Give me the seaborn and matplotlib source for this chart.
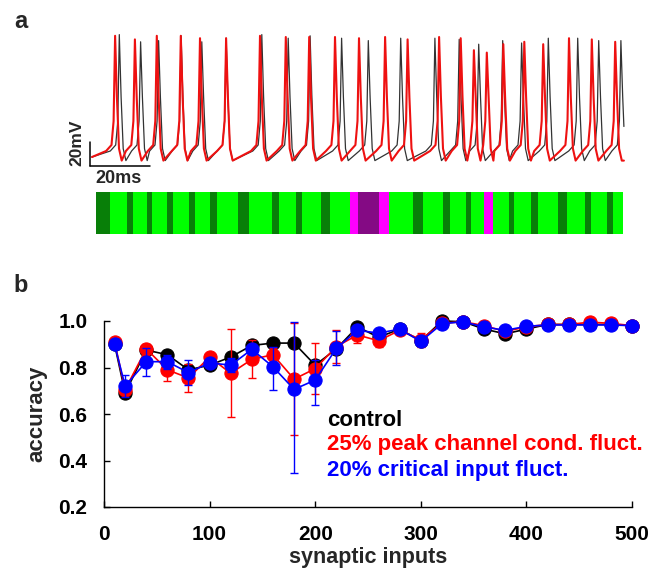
import numpy as np
import pandas as pd
import matplotlib
matplotlib.use("Agg")
import matplotlib.pyplot as plt
import matplotlib.transforms as mtransforms
import seaborn as sns

# ---------------- data ----------------
# panel a: spike times (ms) and peak voltages (mV)
black_spike_t = [9.1, 16.2, 22.2, 29.7, 36.6, 44.7, 56.6, 65.4, 72.7, 83.2, 92.1,
                 102.9, 114.3, 122.4, 128.9, 136.9, 143.2, 152.1, 161.9, 168.9, 176.3]
black_spike_v = [37, 31, 32, 36, 31, 34, 37, 34, 36, 34, 32,
                 34, 34, 33, 29, 32, 30, 34, 34, 32, 32]
red_spike_t = [7.7, 14.3, 21.6, 29.6, 36.0, 44.7, 56.0, 64.6, 72.4, 81.0, 89.0, 97.7,
               105.2, 115.7, 122.9, 127.3, 131.6, 137.1, 144.1, 150.4, 159.0, 166.6, 174.4]
red_spike_v = [36, 33, 36, 36, 34, 34, 36, 35, 35, 35, 34, 35,
               33, 35, 34, 24, 22, 29, 31, 29, 34, 33, 31]
trace_end = 177.3

# panel a: colour-code bar, segment edges (ms) and classes
bar_edges = [1.2, 6.0, 11.6, 13.6, 18.2, 19.9, 24.9, 27.1, 32.4, 34.3, 39.3, 41.6,
             48.8, 52.4, 59.9, 62.3, 68.0, 69.9, 76.2, 79.3, 86.0, 88.8, 95.8, 99.1,
             106.9, 110.2, 116.9, 119.3, 124.7, 126.3, 130.7, 133.8, 139.0, 140.7,
             146.3, 148.8, 155.2, 158.2, 164.3, 166.3, 171.6, 173.6, 177.1]
bar_classes = list("DLDLDLDLDLDLDLDLDLDL") + list("MPM") + list("LDLDLDL") + ["M"] + \
              list("LDLDLDLDLDL")
bar_colors = {"L": "#00ff00", "D": "#087f08", "M": "#ff00ff", "P": "#840a84"}

# panel b
syn_inputs = [10, 20, 40, 60, 80, 100, 120, 140, 160, 180, 200, 220, 240, 260, 280,
              300, 320, 340, 360, 380, 400, 420, 440, 460, 480, 500]
acc_control = [0.90, 0.69, 0.875, 0.855, 0.79, 0.81, 0.845, 0.895, 0.905, 0.905, 0.81,
               0.88, 0.975, 0.93, 0.965, 0.915, 1.0, 0.997, 0.965, 0.945, 0.965,
               0.985, 0.985, 0.985, 0.985, 0.98]
acc_peak = [0.91, 0.705, 0.88, 0.79, 0.755, 0.845, 0.775, 0.835, 0.855, 0.75, 0.795,
            0.89, 0.94, 0.915, 0.96, 0.92, 0.99, 0.997, 0.98, 0.955, 0.975,
            0.985, 0.985, 0.995, 0.99, 0.98]
err_peak = [0.012, 0.02, 0.02, 0.05, 0.06, 0.015, 0.19, 0.082, 0.03, 0.24, 0.11,
            0.07, 0.035, 0.027, 0.01, 0.03, 0.005, 0.005, 0.005, 0.005, 0.005,
            0.005, 0.005, 0.005, 0.005, 0.005]
acc_crit = [0.90, 0.72, 0.825, 0.825, 0.778, 0.82, 0.81, 0.878, 0.803, 0.706, 0.746,
            0.882, 0.96, 0.948, 0.965, 0.912, 0.988, 0.997, 0.974, 0.96, 0.977,
            0.983, 0.983, 0.983, 0.983, 0.98]
err_crit_lo = [0.01, 0.047, 0.062, 0.03, 0.053, 0.015, 0.03, 0.02, 0.1, 0.36, 0.106,
               0.07, 0.01, 0.01, 0.005, 0.01, 0.005, 0.005, 0.005, 0.005, 0.005,
               0.005, 0.005, 0.005, 0.005, 0.005]
err_crit_hi = [0.01, 0.047, 0.058, 0.03, 0.053, 0.015, 0.03, 0.02, 0.086, 0.29, 0.086,
               0.075, 0.01, 0.01, 0.005, 0.01, 0.005, 0.005, 0.005, 0.005, 0.005,
               0.005, 0.005, 0.005, 0.005, 0.005]
legend_labels = ["control", "25% peak channel cond. fluct.", "20% critical input fluct."]
x_ticks = [0, 100, 200, 300, 400, 500]
y_ticks = [0.2, 0.4, 0.6, 0.8, 1.0]

# ---------------- style ----------------
sns.set_style("white")
plt.rcParams["font.family"] = ["Liberation Sans", "DejaVu Sans"]
plt.rcParams["font.weight"] = "bold"
plt.rcParams["axes.labelweight"] = "bold"

W, H = 656, 570
fig = plt.figure(figsize=(W / 100, H / 100), dpi=100)


def px_axes(l, t, r, b):
    return fig.add_axes([l / W, 1 - b / H, (r - l) / W, (b - t) / H])


def build_trace(times, peaks, t_end, v_rest=-65.0):
    shape = [(-3.0, -60.0), (-1.2, -55.0), (-0.5, -35.0), (0.0, None),
             (0.6, -15.0), (1.3, -58.0), (2.2, -68.0)]
    tt, vv = [0.0], [v_rest]
    for ts, vp in zip(times, peaks):
        for dt, v in shape:
            t = ts + dt
            if t <= tt[-1] + 0.05:
                continue
            tt.append(t)
            vv.append(vp if v is None else v)
    tt = np.array(tt)
    vv = np.array(vv)
    keep = tt < t_end
    v_end = np.interp(t_end, tt, vv)
    return np.append(tt[keep], t_end), np.append(vv[keep], v_end)


# ---------------- panel a: traces ----------------
ax_tr = px_axes(88, 28, 626, 180)
bt, bv = build_trace(black_spike_t, black_spike_v, trace_end)
rt, rv = build_trace(red_spike_t, red_spike_v, trace_end)
sns.lineplot(x=bt, y=bv, ax=ax_tr, color="#333333", lw=0.9, sort=False, estimator=None)
sns.lineplot(x=rt, y=rv, ax=ax_tr, color="#ee1111", lw=1.5, sort=False, estimator=None)
ax_tr.set_xlim(-4 / 3, 178)
ax_tr.set_ylim(-84.17, 42.5)
ax_tr.axis("off")
# scale bars (20 mV, 20 ms)
ax_tr.plot([-0.667, -0.667], [-52.5, -72.5], color="black", lw=1.1, clip_on=False)
ax_tr.plot([-0.667, 19.33], [-72.5, -72.5], color="black", lw=1.1, clip_on=False)
fig.text(77 / W, 1 - 143 / H, "20mV", rotation=90, ha="center", va="center",
         fontsize=12.5, fontweight="bold")
fig.text(118 / W, 1 - 178 / H, "20ms", ha="center", va="center",
         fontsize=13, fontweight="bold")

# ---------------- panel a: colour bar ----------------
ax_bar = px_axes(88, 192, 626, 234)
lefts = bar_edges[:-1]
widths = np.diff(bar_edges)
ax_bar.bar(lefts, [1] * len(lefts), width=widths, align="edge",
           color=[bar_colors[c] for c in bar_classes], linewidth=0)
ax_bar.set_xlim(-4 / 3, 178)
ax_bar.set_ylim(0, 1)
ax_bar.axis("off")

# ---------------- panel b ----------------
ax = px_axes(104, 321, 632, 507)
series = [(acc_control, None, "black"),
          (acc_peak, (err_peak, err_peak), "#ff0000"),
          (acc_crit, (err_crit_lo, err_crit_hi), "#0000ff")]
for z, (vals, err, col) in enumerate(series):
    if err is not None:
        ax.errorbar(syn_inputs, vals, yerr=[err[0], err[1]], fmt="none", ecolor=col,
                    elinewidth=1.0, capsize=3, capthick=1.0, zorder=2 + z)
    sns.lineplot(x=syn_inputs, y=vals, ax=ax, color=col, lw=1.2, marker="o",
                 markersize=9.5, markeredgecolor=col, markeredgewidth=0.8,
                 estimator=None, zorder=2 + z, clip_on=False)

ax.set_xlim(0, 500)
ax.set_ylim(0.2, 1.0)
ax.set_xticks(x_ticks)
ax.set_yticks(y_ticks)
ax.set_yticklabels([f"{v:.1f}" for v in y_ticks])
for s in ["top", "right"]:
    ax.spines[s].set_visible(False)
for s in ["left", "bottom"]:
    ax.spines[s].set_color("black")
    ax.spines[s].set_linewidth(1.0)
ax.tick_params(axis="both", direction="in", length=4, width=1, colors="black",
               labelsize=15, pad=13, bottom=True, left=True)
ax.tick_params(axis="y", pad=12)
for lab in ax.get_xticklabels() + ax.get_yticklabels():
    lab.set_fontweight("bold")
ax.set_xlabel("synaptic inputs", fontsize=15.5, fontweight="bold")
ax.set_ylabel("accuracy", fontsize=16, fontweight="bold")
ax.xaxis.set_label_coords(0.5, -0.215)
ax.yaxis.set_label_coords(-0.108, 0.5)

leg_cols = ["black", "#ff0000", "#0000ff"]
leg_y = [0.574, 0.467, 0.359]
blend = mtransforms.blended_transform_factory(ax.transAxes, ax.transData)
for lab, col, yy in zip(legend_labels, leg_cols, leg_y):
    ax.text(0.4223, yy, lab, transform=blend, color=col, fontsize=16,
            fontweight="bold", ha="left", va="center")

fig.text(21 / W, 1 - 22 / H, "a", fontsize=17, fontweight="bold", ha="center", va="center")
fig.text(21 / W, 1 - 285 / H, "b", fontsize=17, fontweight="bold", ha="center", va="center")

fig.savefig("out.png", dpi=100)
